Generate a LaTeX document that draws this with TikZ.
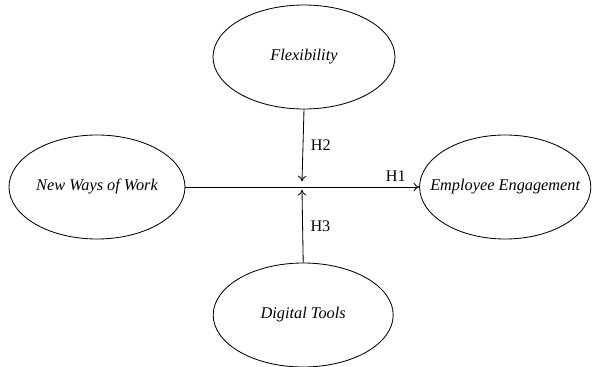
\documentclass[tikz,border=0pt]{standalone}
\usepackage{fontspec}
\setmainfont{Liberation Serif}
\usetikzlibrary{shapes.geometric,arrows.meta}
\tikzset{
    % Ellipses for the constructs and the arrows between them
    construct node/.style={ellipse,draw,semithick,minimum height=2.6cm,inner ysep=0pt,inner xsep=-0.45cm,font=\fontsize{11.6}{14}\selectfont\itshape},
    path arrow/.style={semithick,-{To[length=4pt,width=6pt]}}
    }

\begin{document}
\begin{tikzpicture}[font=\fontsize{11.5}{14}\selectfont]
        \useasboundingbox (0,0) rectangle (14.8,9.175);
        % The constructs
        \node(nww)[construct node,minimum width=4.4cm] at (2.425,4.5) {New Ways of Work};
        \node(ee)[construct node,minimum width=4.28cm] at (12.63,4.5) {Employee Engagement};
        \node(flex)[construct node,minimum width=4.55cm] at (7.6,7.75) {Flexibility};
        \node(dt)[construct node,minimum width=4.5cm] at (7.58,1.3) {Digital Tools};
        % moderators meet the main path here
        \coordinate(hub) at (7.55,4.5);
        \coordinate(h2 end) at ([yshift=4pt]hub);
        \coordinate(h3 end) at ([yshift=-2pt]hub);
        % Main effect
        \draw[path arrow](nww.east) -- node[pos=0.9,above]{H1} (ee.west);
        % Moderating effects
        \draw[path arrow](flex.south) -- node[right,xshift=2pt]{H2} (h2 end);
        \draw[path arrow](dt.north) -- node[right,xshift=2pt]{H3} (h3 end);
    \end{tikzpicture}
\end{document}
